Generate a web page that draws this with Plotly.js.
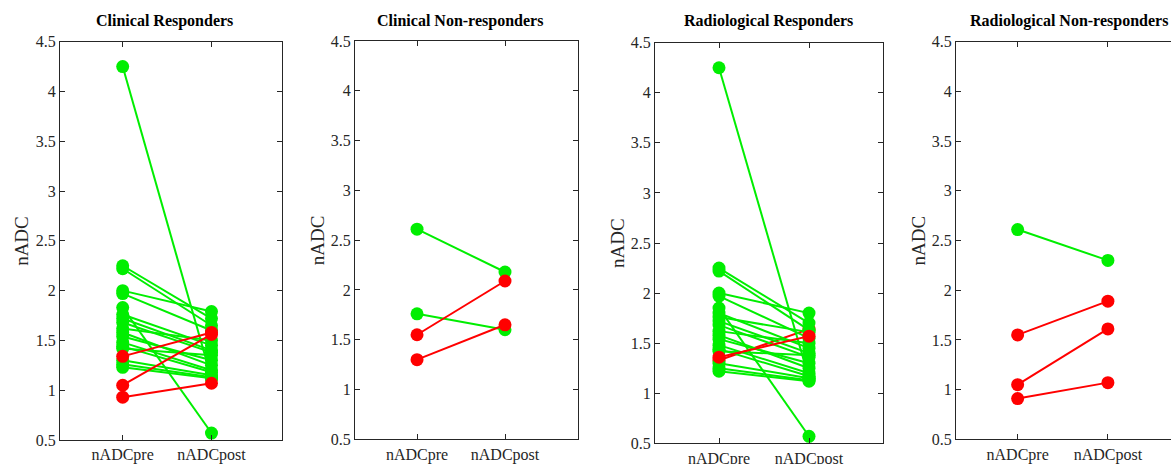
<!DOCTYPE html>
<html>
<head>
<meta charset="utf-8">
<script src="https://cdn.plot.ly/plotly-3.0.1.min.js"></script>
<style>
  html, body { margin: 0; padding: 0; background: #fff; overflow: hidden; }
  #chart { width: 1185px; height: 464px; }
</style>
</head>
<body>
<div id="chart"></div>
<script>
// ---- data ----
const xCats = ['nADCpre', 'nADCpost'];
const panelTitles = ['Clinical Responders', 'Clinical Non-responders', 'Radiological Responders', 'Radiological Non-responders'];
const yLabel = 'nADC';

// Clinical Responders
const crPre  = [4.25, 2.25, 2.22, 2.00, 1.97, 1.83, 1.76, 1.72, 1.68, 1.62, 1.58, 1.54, 1.48, 1.44, 1.42, 1.30, 1.26, 1.23, 1.34, 1.05, 0.93];
const crPost = [1.12, 1.72, 1.65, 1.79, 1.60, 0.57, 1.45, 1.40, 1.38, 1.50, 1.25, 1.30, 1.20, 1.18, 1.35, 1.15, 1.13, 1.12, 1.58, 1.56, 1.07];

// Clinical Non-responders
const cnPre  = [2.61, 1.76, 1.55, 1.30];
const cnPost = [2.18, 1.60, 2.09, 1.65];

// Radiological Responders
const rrPre  = [1.33, 4.25, 2.25, 2.22, 2.00, 1.97, 1.85, 1.80, 1.76, 1.72, 1.68, 1.62, 1.58, 1.54, 1.48, 1.44, 1.42, 1.30, 1.25, 1.22, 1.36];
const rrPost = [1.64, 1.15, 1.70, 1.63, 1.80, 1.55, 0.57, 1.45, 1.61, 1.40, 1.36, 1.50, 1.25, 1.30, 1.20, 1.17, 1.38, 1.15, 1.13, 1.12, 1.57];

// Radiological Non-responders
const rnPre  = [2.61, 1.55, 1.05, 0.91];
const rnPost = [2.30, 1.89, 1.61, 1.07];

const panelsData = [[crPre, crPost], [cnPre, cnPost], [rrPre, rrPost], [rnPre, rnPost]];

// ---- layout geometry (pixels) ----
const W = 1185, H = 464;
const boxes = [
  {l: 60,  r: 282,   t: 41.7, b: 440},
  {l: 355, r: 577.5, t: 41,   b: 439.3},
  {l: 655, r: 883,   t: 42.7, b: 443.3},
  {l: 956, r: 1181,  t: 41.7, b: 439.3}
];
const titleCenters = [164.5, 459.5, 768, 1069];
const xRanges = [[-0.706, 1.794], [-0.705, 1.824], [-0.711, 1.822], [-0.683, 1.81]];

const GREEN = '#00ee00', RED = '#ff0000';
const AX = '#262626';
const FONT = 'Liberation Serif, Times New Roman, serif';

const traces = [];
const layout = {
  width: W, height: H,
  margin: {l: 0, r: 0, t: 0, b: 0},
  paper_bgcolor: '#fff', plot_bgcolor: '#fff',
  showlegend: false,
  font: {family: FONT, color: AX, size: 16},
  annotations: []
};

panelsData.forEach((pd, i) => {
  const pre = pd[0], post = pd[1];
  const n = i + 1;
  const xa = 'x' + (n === 1 ? '' : n), ya = 'y' + (n === 1 ? '' : n);
  for (let k = 0; k < pre.length; k++) {
    const c = post[k] > pre[k] ? RED : GREEN;
    traces.push({
      type: 'scatter', mode: 'lines+markers',
      x: xCats, y: [pre[k], post[k]],
      xaxis: xa, yaxis: ya,
      line: {color: c, width: 2},
      marker: {color: c, size: 13},
      hoverinfo: 'skip', cliponaxis: false
    });
  }
  const b = boxes[i];
  const xk = 'xaxis' + (n === 1 ? '' : n), yk = 'yaxis' + (n === 1 ? '' : n);
  layout[xk] = {
    domain: [b.l / W, Math.min(1, b.r / W)],
    anchor: ya, type: 'category', categoryarray: xCats, categoryorder: 'array',
    range: xRanges[i],
    showgrid: false, zeroline: false,
    showline: true, linecolor: AX, linewidth: 1, mirror: 'ticks',
    ticks: 'inside', ticklen: 5, tickcolor: AX, tickwidth: 1,
    tickfont: {family: FONT, size: 16, color: AX},
    fixedrange: true
  };
  layout[yk] = {
    domain: [(H - b.b) / H, (H - b.t) / H],
    anchor: xa, range: [0.5, 4.5], tick0: 0.5, dtick: 0.5,
    showgrid: false, zeroline: false,
    showline: true, linecolor: AX, linewidth: 1, mirror: 'ticks',
    ticks: 'inside', ticklen: 5, tickcolor: AX, tickwidth: 1,
    tickfont: {family: FONT, size: 16, color: AX},
    fixedrange: true
  };
  layout.annotations.push({
    text: '<b>' + panelTitles[i] + '</b>', xref: 'paper', yref: 'paper',
    x: titleCenters[i] / W, y: (H - 21.5) / H, xanchor: 'center', yanchor: 'middle',
    showarrow: false, font: {family: FONT, size: 16, color: '#000'}
  });
  layout.annotations.push({
    text: yLabel, xref: 'paper', yref: 'paper', textangle: -90,
    x: (b.l - 38) / W, y: (H - (b.t + b.b) / 2) / H, xanchor: 'center', yanchor: 'middle',
    showarrow: false, font: {family: FONT, size: 19, color: AX}
  });
});

Plotly.newPlot('chart', traces, layout, {displayModeBar: false, staticPlot: true});
</script>
</body>
</html>
